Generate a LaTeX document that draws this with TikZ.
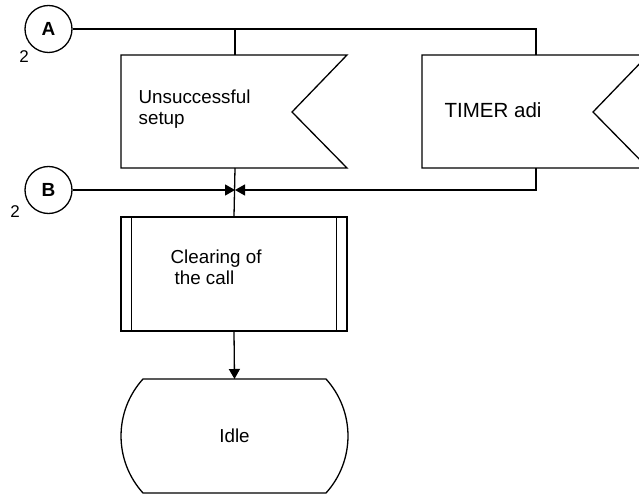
\documentclass[tikz,border=0pt]{standalone}
\usepackage{fontspec}
\setmainfont{Liberation Sans}
\usetikzlibrary{arrows.meta}
\begin{document}
\begin{tikzpicture}[x=1pt,y=-1pt,line width=1.3pt,
  txt/.style={font=\fontsize{18.8}{21}\selectfont,align=left,inner sep=0pt,anchor=west},
  conn/.style={circle,draw,minimum size=47pt,inner sep=0pt,font=\fontsize{19}{20}\selectfont\bfseries},
  num/.style={font=\fontsize{17}{20}\selectfont,inner sep=0pt},
  tip/.style={-{Triangle[length=10pt,width=11pt]}}]
\useasboundingbox (0,0) rectangle (639,497);
\clip (0,0) rectangle (639,497);

% connectors (circles)
\node[conn] (A) at (48.5,29) {A};
\node[num] (A2) at (24,57) {2};
\node[conn] (B) at (48.5,190) {B};
\node[num] (B2) at (15,212) {2};

% signal shape 1
\draw (121,55) -- (347,55) -- (292,112) -- (347,168) -- (121,168) -- cycle;
\coordinate (s1top) at (235,55);
\coordinate (s1bot) at (235,168);
\node[txt] (t1) at (138,109) {Unsuccessful\\setup};

% signal shape 2
\draw (422,55) -- (648,55) -- (593,112) -- (648,168) -- (422,168) -- cycle;
\coordinate (s2top) at (536,55);
\coordinate (s2bot) at (536,168);
\node[txt,font=\fontsize{20.5}{21}\selectfont] (t2) at (444,110) {TIMER adi};

% top line from A
\coordinate (ra) at (536,29);
\coordinate (ja) at (235,29);
\draw (A.east) -- (ra) -- (s2top);
\draw (ja) -- (s1top);

% junction
\coordinate (jn) at (235,190);
\coordinate (rb) at (536,190);
\draw[tip] (B.east) -- (jn);
\draw[tip] (s2bot) -- (rb) -- (jn);

% process box
\node[draw,minimum width=226pt,minimum height=114pt,inner sep=0pt] (proc) at (234,274) {};
\draw ([xshift=11pt]proc.north west) -- ([xshift=11pt]proc.south west);
\draw ([xshift=-11pt]proc.north east) -- ([xshift=-11pt]proc.south east);
\node[txt] (t3) at (170,267.5) {Clearing of\\\hspace{4pt}the call};
\draw (s1bot) -- (proc.north);

% idle state
\draw (143,379) -- (326,379) .. controls (355.3,411.3) and (355.3,460.7) .. (326,493)
  -- (143,493) .. controls (113.7,460.7) and (113.7,411.3) .. (143,379) -- cycle;
\coordinate (itop) at (234.5,379);
\node[txt,anchor=center] (idle) at (234.5,436) {Idle};
\draw[tip] (proc.south) -- (itop);
\end{tikzpicture}
\end{document}
